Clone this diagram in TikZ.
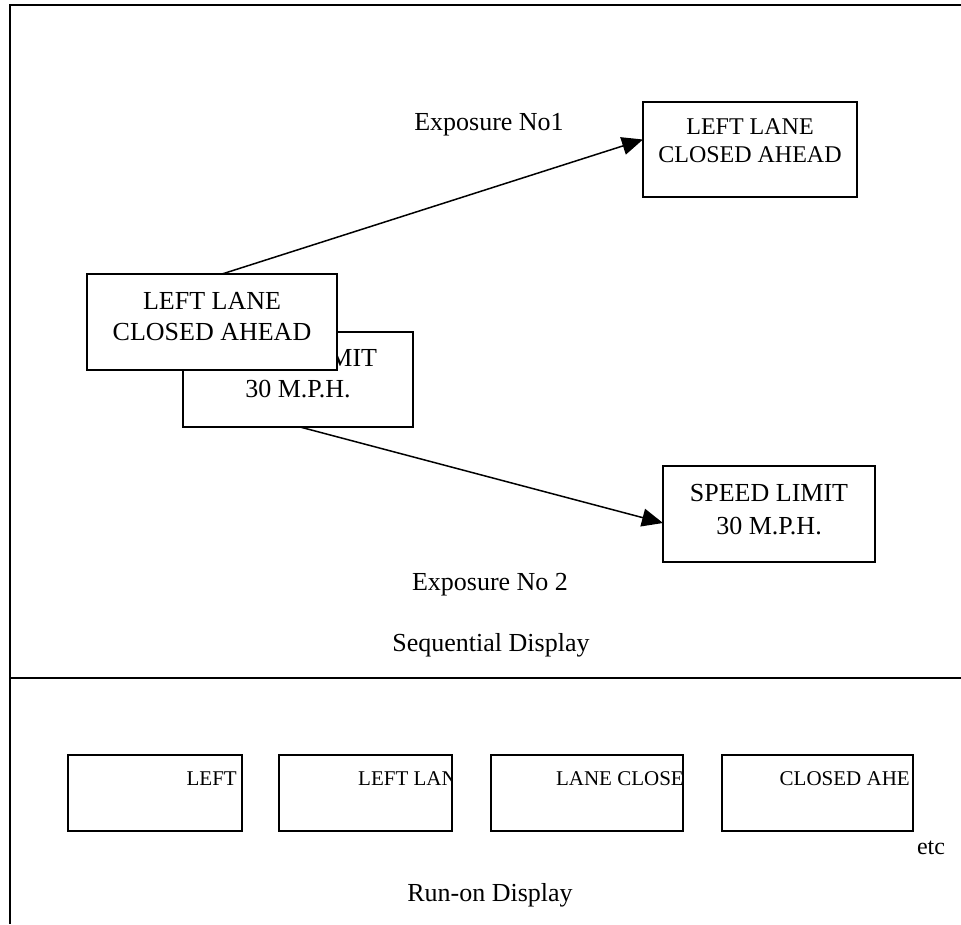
\documentclass[tikz,border=0pt]{standalone}
\usepackage{fontspec}
\setmainfont{Liberation Serif}
\usetikzlibrary{arrows.meta,calc}
\begin{document}
\begin{tikzpicture}[x=1pt,y=-1pt,
  sign/.style={draw,line width=1.5pt,fill=white,inner sep=0pt,outer sep=0pt},
  runbox/.style={draw,line width=1.5pt,inner sep=0pt,outer sep=0pt},
  signtext/.style={font=\fontsize{26}{31}\selectfont,align=center,inner sep=0pt},
  lbl/.style={font=\fontsize{26}{31}\selectfont,inner sep=0pt},
  runtext/.style={font=\fontsize{21}{25}\selectfont,inner sep=0pt,anchor=base east},
  arr/.style={line width=1.5pt,-{Triangle[length=21pt,width=18pt]}},
  framer/.style={line width=2pt}]
\useasboundingbox (0,0) rectangle (961,924);
% frame
\coordinate (ftl) at (10,5);
\coordinate (ftr) at (961,5);
\coordinate (fbl) at (10,924);
\coordinate (sl) at (10,678);
\coordinate (sr) at (961,678);
\draw[framer] (ftr) -- (ftl) -- (fbl);
\draw[framer] (sl) -- (sr);
% back sign (speed limit)
\node[sign,minimum width=230pt,minimum height=95pt] (B) at (298,379.5) {};
\node[signtext] (Bt) at (298,374) {SPEED LIMIT\\30 M.P.H.};
% front sign (left lane)
\node[sign,minimum width=250pt,minimum height=96pt] (A) at (212,322) {};
\node[signtext] (At) at (212,317) {LEFT LANE\\CLOSED AHEAD};
% exposure 1 sign
\node[sign,minimum width=214pt,minimum height=95pt] (C) at (750,149.5) {};
\node[signtext,font=\fontsize{24}{28}\selectfont] (Ct) at (750,141) {LEFT LANE\\CLOSED AHEAD};
% exposure 2 sign
\node[sign,minimum width=212pt,minimum height=96pt] (D) at (769,514) {};
\node[signtext,font=\fontsize{26}{33}\selectfont] (Dt) at (769,510) {SPEED LIMIT\\30 M.P.H.};
% arrows
\draw[arr] ($(A.north)+(10,0)$) -- ($(C.west)+(0,-10)$);
\draw[arr] ($(B.south)+(2,0)$) -- ($(D.west)+(0,9)$);
% labels
\node[lbl] (e1) at (489,125) {Exposure No1};
\node[lbl] (e2) at (490,585) {Exposure No 2};
\node[lbl] (seq) at (491,645) {Sequential Display};
\node[lbl] (run) at (490,895) {Run-on Display};
\node[lbl,font=\fontsize{24}{28}\selectfont] (etc) at (931,848) {etc};
% run-on boxes
\node[runbox,minimum width=174pt,minimum height=76pt] (r1) at (155,793) {};
\node[runbox,minimum width=173pt,minimum height=76pt] (r2) at (365.5,793) {};
\node[runbox,minimum width=192pt,minimum height=76pt] (r3) at (587,793) {};
\node[runbox,minimum width=191pt,minimum height=76pt] (r4) at (817.5,793) {};
\begin{scope}
\clip (r1.south west) rectangle (r1.north east);
\node[runtext] (t1) at ($(r1.east)+(-5,-8)$) {LEFT};
\end{scope}
\begin{scope}
\clip (r2.south west) rectangle (r2.north east);
\node[runtext] (t2) at ($(r2.east)+(5,-8)$) {LEFT LAN};
\end{scope}
\begin{scope}
\clip (r3.south west) rectangle (r3.north east);
\node[runtext] (t3) at ($(r3.east)+(1,-8)$) {LANE CLOSE};
\end{scope}
\begin{scope}
\clip (r4.south west) rectangle (r4.north east);
\node[runtext] (t4) at ($(r4.east)+(-3,-8)$) {CLOSED AHE};
\end{scope}
\end{tikzpicture}
\end{document}
